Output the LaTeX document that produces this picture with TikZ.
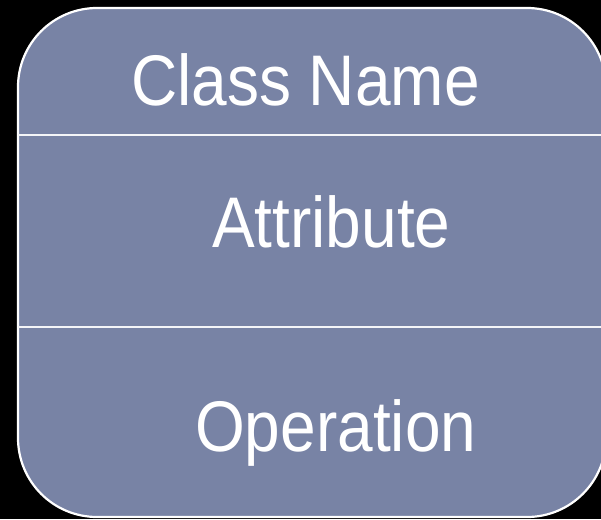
\documentclass[tikz,border=0pt]{standalone}
\usepackage{fontspec}
\setmainfont{Liberation Sans}
\definecolor{classfill}{HTML}{7883A5}
\tikzset{
  classbox/.style={fill=classfill, draw=white, line width=2.2pt, rounded corners=79pt},
  divider/.style={draw=white!92!classfill, line width=2.2pt},
  label/.style={anchor=base west, inner sep=0pt, text=white, font=\fontsize{64}{64}\selectfont},
}
\newcommand{\tallword}[1]{\scalebox{1}[1.12]{#1}}
\begin{document}
\begin{tikzpicture}[x=1pt, y=-1pt]
  % page area with black background
  \fill[black] (0,0) rectangle (601,519);
  \useasboundingbox (0,0) rectangle (601,519);
  \clip (0,0) rectangle (601,519);

  % class box outline
  \path[classbox] (18,8) rectangle (606,517);

  % compartment dividers
  \coordinate (d1l) at (18,135);
  \coordinate (d1r) at (606,135);
  \coordinate (d2l) at (18,327);
  \coordinate (d2r) at (606,327);
  \draw[divider] (d1l) -- (d1r);
  \draw[divider] (d2l) -- (d2r);

  % compartment labels
  \node[label] (name) at (131,105) {\tallword{Class Name}};
  \node[label] (attr) at (212,247) {\tallword{Attribute}};
  \node[label] (oper) at (195,451) {\tallword{Operation}};
\end{tikzpicture}
\end{document}
